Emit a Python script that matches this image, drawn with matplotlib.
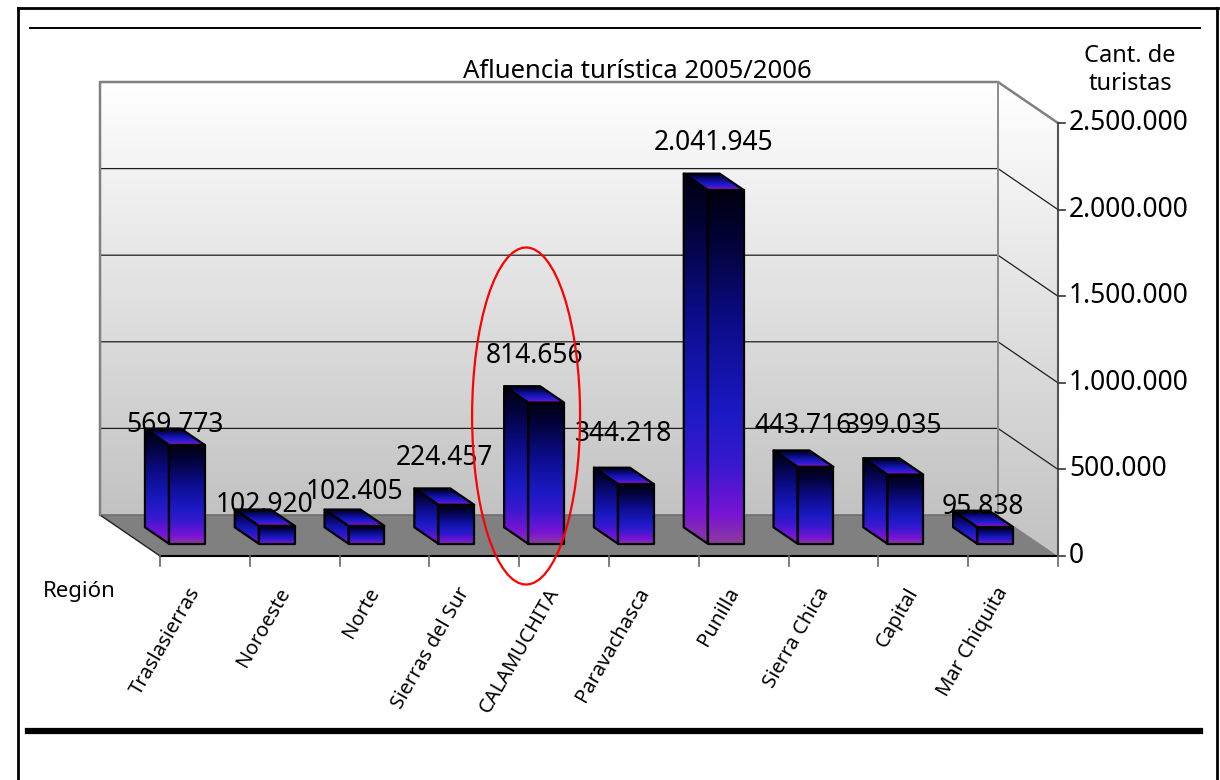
import numpy as np
import matplotlib
matplotlib.use('Agg')
import matplotlib.pyplot as plt
from matplotlib.patches import Polygon, Ellipse
from matplotlib.colors import LinearSegmentedColormap
from matplotlib.lines import Line2D

plt.rcParams['font.family'] = ['Noto Sans', 'DejaVu Sans']

# data
regiones = ['Traslasierras', 'Noroeste', 'Norte', 'Sierras del Sur', 'CALAMUCHITA',
            'Paravachasca', 'Punilla', 'Sierra Chica', 'Capital', 'Mar Chiquita']
turistas = [569773, 102920, 102405, 224457, 814656, 344218, 2041945, 443716, 399035, 95838]
ticks_y = [0, 500000, 1000000, 1500000, 2000000, 2500000]
titulo = 'Afluencia turística 2005/2006'
eje_y = 'Cant. de\nturistas'
eje_x = 'Región'

def miles(v):
    return f"{v:,}".replace(',', '.')

# geometry (pixels -> data units)
PXX = 89.8                 # px per category
PXY = 86.6 / 500000        # px per tourist
DX = 60 / PXX              # depth shift to the right
DY = 41 / PXY              # depth shift downwards
YMAX = ticks_y[-1]
n = len(regiones)

def P(x, v, d):
    return (x + d * DX, v - d * DY)

fig = plt.figure(figsize=(12.2, 7.8), dpi=100)
ax = fig.add_axes([0, 0, 1, 1])
ax.axis('off')

grad = np.linspace(0, 1, 256).reshape(-1, 1)
wall_cmap = LinearSegmentedColormap.from_list('wall', ['#c2c2c2', '#ffffff'])
bar_cmap = LinearSegmentedColormap.from_list('bar', [
    (0.0, '#8c3c9c'), (0.08, '#7a14d4'), (0.22, '#3a18d0'), (0.37, '#1a1ac4'),
    (0.62, '#0c0c8a'), (0.85, '#03033a'), (1.0, '#000010')])

# back wall
back = Polygon([P(0, 0, 0), P(n, 0, 0), P(n, YMAX, 0), P(0, YMAX, 0)], closed=True,
               fc='none', ec='none', zorder=1)
ax.add_patch(back)
im = ax.imshow(grad, cmap=wall_cmap, origin='lower', aspect='auto',
               extent=[0, n, 0, YMAX], zorder=1)
im.set_clip_path(back)

# side wall
side = Polygon([P(n, 0, 0), P(n, 0, 1), P(n, YMAX, 1), P(n, YMAX, 0)], closed=True,
               fc='none', ec='none', zorder=1)
ax.add_patch(side)
im = ax.imshow(grad, cmap=wall_cmap, origin='lower', aspect='auto',
               extent=[n, n + DX, -DY, YMAX], zorder=1)
im.set_clip_path(side)

# floor
ax.add_patch(Polygon([P(0, 0, 0), P(n, 0, 0), P(n, 0, 1), P(0, 0, 1)], closed=True,
                     fc='#808080', ec='none', zorder=2))
ax.plot([0, n], [0, 0], color='#6e6e6e', lw=1.2, zorder=2.5)
ax.plot([0, DX], [0, -DY], color='#222222', lw=1, zorder=3)
ax.plot([DX, n + DX], [-DY, -DY], color='black', lw=1.5, zorder=3)

# gridlines
for t in ticks_y[1:-1]:
    ax.plot([0, n, n + DX], [t, t, t - DY], color='#1e1e1e', lw=0.9, zorder=2)

# wall outlines
ax.plot([0, 0, n, n + DX], [0, YMAX, YMAX, YMAX - DY], color='#808080', lw=1.8, zorder=3)
ax.plot([n, n], [0, YMAX], color='#8c8c8c', lw=1.4, zorder=3)

# value axis
ax.plot([n + DX, n + DX], [-DY, YMAX - DY], color='#555555', lw=1.5, zorder=3)
for t in ticks_y:
    ax.plot([n + DX, n + DX + 7 / PXX], [t - DY, t - DY], color='#333333', lw=1.2, zorder=3)
    ax.text(n + DX + 11 / PXX, t - DY, miles(t), ha='left', va='center', fontsize=19)

# category axis
for k in range(n + 1):
    ax.plot([k + DX, k + DX], [-DY, -DY - 10 / PXY], color='#666666', lw=1.2, zorder=3)
for k, name in enumerate(regiones):
    ax.text(k + 0.5 + DX - 9 / PXX, -DY - 33 / PXY, name, rotation=60,
            ha='right', va='center', rotation_mode='anchor', fontsize=14.5)

# bars
def cara(verts, ylo, yhi, z):
    poly = Polygon(verts, closed=True, fc='none', ec='black', lw=1.6,
                   joinstyle='round', zorder=z + 0.5)
    ax.add_patch(poly)
    xs = [p[0] for p in verts]
    img = ax.imshow(grad, cmap=bar_cmap, origin='lower', aspect='auto',
                    extent=[min(xs), max(xs), ylo, yhi], zorder=z, interpolation='bilinear')
    img.set_clip_path(poly)

d0, d1 = 0.3, 0.7
for i, v in enumerate(turistas):
    x0, x1 = i + 0.3, i + 0.7
    cara([P(x0, 0, d1), P(x1, 0, d1), P(x1, v, d1), P(x0, v, d1)], -d1 * DY, v - d1 * DY, 5)
    cara([P(x0, 0, d0), P(x0, 0, d1), P(x0, v, d1), P(x0, v, d0)], -d1 * DY, v - d0 * DY, 5)
    cara([P(x0, v, d0), P(x1, v, d0), P(x1, v, d1), P(x0, v, d1)], v - d1 * DY, v - d0 * DY, 5)

# data labels
lab_off = [12, 13, 26, 39, 38, 42, 39, 33, 40, 12]
for i, v in enumerate(turistas):
    ax.annotate(miles(v), xy=(i + 0.5 + 0.5 * DX, v - 0.5 * DY), xytext=(0, lab_off[i]),
                textcoords='offset pixels', ha='center', va='center', fontsize=19, zorder=10)

# highlight ellipse around CALAMUCHITA
ic = regiones.index('CALAMUCHITA')
ax.add_patch(Ellipse((ic + 0.5 + 0.5 * DX - 8 / PXX, 99 / PXY), 108 / PXX, 337 / PXY,
                     fc='none', ec='red', lw=1.6, zorder=11))

ax.set_xlim(-100 / PXX, 1120 / PXX)
ax.set_ylim(-265 / PXY, 515 / PXY)

# titles
fig.text(637 / 1220, 1 - 71 / 780, titulo, ha='center', va='center', fontsize=18.5)
fig.text(1130 / 1220, 1 - 70 / 780, eje_y, ha='center', va='center', fontsize=17,
         linespacing=1.2)
fig.text(43 / 1220, 1 - 592 / 780, eje_x, ha='left', va='center', fontsize=16)

# page frame
def fline(x0, y0, x1, y1, lw):
    fig.add_artist(Line2D([x0 / 1220, x1 / 1220], [1 - y0 / 780, 1 - y1 / 780],
                          transform=fig.transFigure, color='black', lw=lw))

fline(18, 8, 1218, 8, 2)
fline(18, 8, 18, 780, 2)
fline(1217, 8, 1217, 780, 2)
fline(30, 28, 1200, 28, 1.4)
fline(28, 731, 1200, 731, 4.5)

fig.savefig('out.png', dpi=100)
